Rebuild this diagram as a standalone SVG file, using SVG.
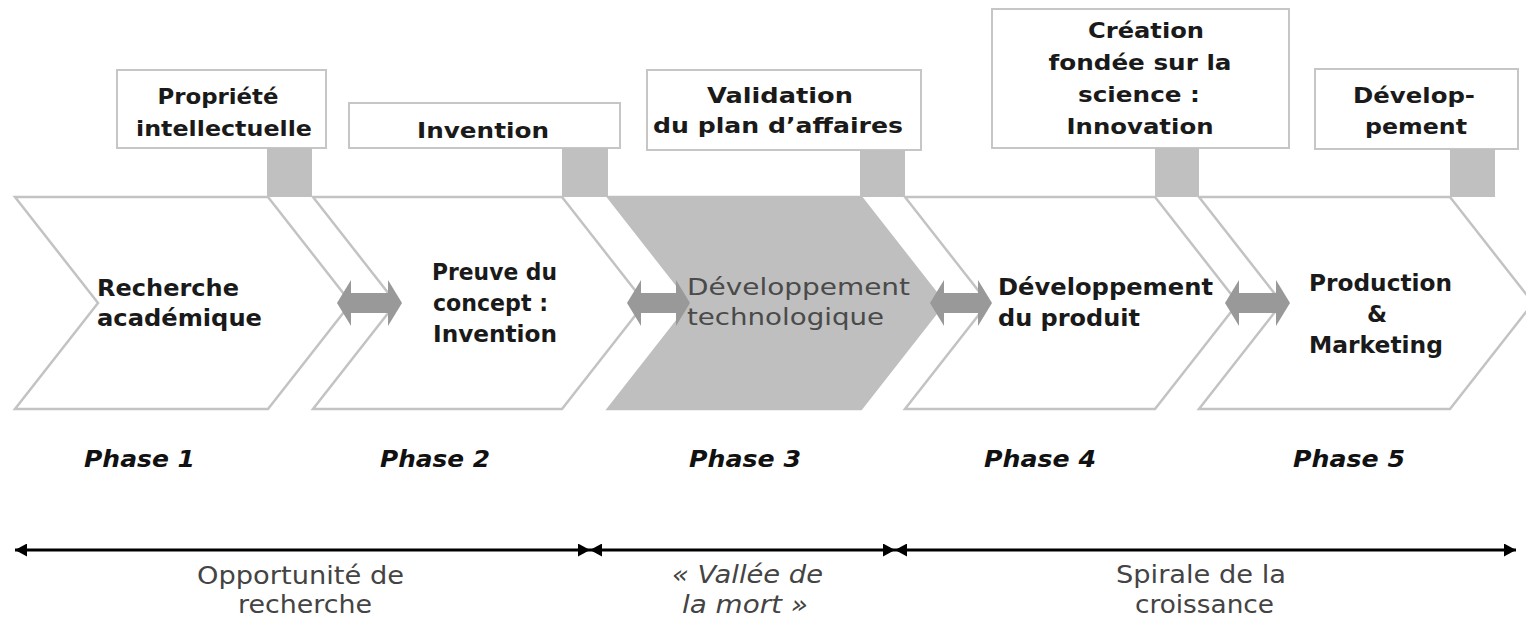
<svg xmlns="http://www.w3.org/2000/svg" width="1526" height="619" viewBox="0 0 1526 619">
<style>
.box{fill:#fff;stroke:#c6c6c6;stroke-width:2}
.blk{fill:#c0c0c0}
.chev{fill:#fff;stroke:#c3c3c3;stroke-width:2.5;stroke-linejoin:miter}
.chevg{fill:#bfbfbf;stroke:#bfbfbf;stroke-width:2.5}
.dbl{fill:#999999}
.t{font-family:"DejaVu Sans",Verdana,sans-serif;font-weight:bold;font-size:22px;fill:#1a1a1a}
.c{font-family:"DejaVu Sans",Verdana,sans-serif;font-weight:bold;font-size:23px;fill:#1a1a1a}
.g{font-family:"DejaVu Sans",Verdana,sans-serif;font-size:23px;fill:#4a4a4a}
.ph{font-family:"DejaVu Sans",Verdana,sans-serif;font-weight:bold;font-style:italic;font-size:23px;fill:#111}
.b{font-family:"DejaVu Sans",Verdana,sans-serif;font-size:24px;fill:#444}
.bi{font-family:"DejaVu Sans",Verdana,sans-serif;font-size:24px;font-style:italic;fill:#444}
.m{text-anchor:middle}
.ax{stroke:#000;stroke-width:3;fill:none}
</style>
<defs>
<marker id="ah" viewBox="0 0 12 13" refX="12" refY="6.5" markerWidth="12" markerHeight="13" markerUnits="userSpaceOnUse" orient="auto-start-reverse">
<path d="M0,0 L12,6.5 L0,13 Z" fill="#000"/>
</marker>
</defs>

<g id="phase1">
<rect class="box" x="117" y="70" width="209" height="78"/>
<rect class="blk" x="267" y="148" width="45" height="49"/>
<path class="chev" d="M15,197 L268,197 L351,303 L268,409 L15,409 L98,303 Z"/>
<text class="t m" x="218" y="104" textLength="121" lengthAdjust="spacingAndGlyphs">Propriété</text>
<text class="t m" x="224" y="136" textLength="176" lengthAdjust="spacingAndGlyphs">intellectuelle</text>
<text class="c" x="97" y="296" textLength="142" lengthAdjust="spacingAndGlyphs">Recherche</text>
<text class="c" x="97" y="326" textLength="165" lengthAdjust="spacingAndGlyphs">académique</text>
<text class="ph" x="84" y="467" textLength="111" lengthAdjust="spacingAndGlyphs">Phase 1</text>
</g>

<g id="phase2">
<rect class="box" x="349" y="103" width="271" height="45"/>
<rect class="blk" x="562" y="148" width="46" height="49"/>
<path class="chev" d="M313,197 L562,197 L645,303 L562,409 L313,409 L396,303 Z"/>
<text class="t m" x="483" y="138" textLength="132" lengthAdjust="spacingAndGlyphs">Invention</text>
<text class="c m" x="494.5" y="280" textLength="125" lengthAdjust="spacingAndGlyphs">Preuve du</text>
<text class="c m" x="490.5" y="311" textLength="115" lengthAdjust="spacingAndGlyphs">concept :</text>
<text class="c m" x="495" y="342" textLength="124" lengthAdjust="spacingAndGlyphs">Invention</text>
<text class="ph" x="380" y="467" textLength="110" lengthAdjust="spacingAndGlyphs">Phase 2</text>
</g>

<g id="phase3">
<rect class="box" x="647" y="70" width="274" height="80"/>
<rect class="blk" x="860" y="150" width="45" height="47"/>
<path class="chevg" d="M608,197 L861,197 L944,303 L861,409 L608,409 L691,303 Z"/>
<text class="t m" x="780" y="103" textLength="146" lengthAdjust="spacingAndGlyphs">Validation</text>
<text class="t m" x="778" y="133" textLength="250" lengthAdjust="spacingAndGlyphs">du plan d’affaires</text>
<text class="g" x="687" y="295" textLength="223" lengthAdjust="spacingAndGlyphs">Développement</text>
<text class="g" x="687" y="325" textLength="197" lengthAdjust="spacingAndGlyphs">technologique</text>
<text class="ph" x="689" y="467" textLength="112" lengthAdjust="spacingAndGlyphs">Phase 3</text>
</g>

<g id="phase4">
<rect class="box" x="992" y="9" width="297" height="139"/>
<rect class="blk" x="1155" y="148" width="44" height="49"/>
<path class="chev" d="M905,197 L1155,197 L1238,303 L1155,409 L905,409 L988,303 Z"/>
<text class="t m" x="1146" y="38" textLength="116" lengthAdjust="spacingAndGlyphs">Création</text>
<text class="t m" x="1140" y="70" textLength="183" lengthAdjust="spacingAndGlyphs">fondée sur la</text>
<text class="t m" x="1139" y="102" textLength="122" lengthAdjust="spacingAndGlyphs">science :</text>
<text class="t m" x="1140" y="134" textLength="147" lengthAdjust="spacingAndGlyphs">Innovation</text>
<text class="c" x="998" y="295" textLength="215" lengthAdjust="spacingAndGlyphs">Développement</text>
<text class="c" x="998" y="326" textLength="142" lengthAdjust="spacingAndGlyphs">du produit</text>
<text class="ph" x="984" y="467" textLength="112" lengthAdjust="spacingAndGlyphs">Phase 4</text>
</g>

<g id="phase5">
<rect class="box" x="1315" y="69" width="203" height="80"/>
<rect class="blk" x="1450" y="149" width="45" height="48"/>
<path class="chev" d="M1199,197 L1450,197 L1533,303 L1450,409 L1199,409 L1282,303 Z"/>
<text class="t m" x="1414" y="103" textLength="122" lengthAdjust="spacingAndGlyphs">Dévelop-</text>
<text class="t m" x="1416" y="134" textLength="102" lengthAdjust="spacingAndGlyphs">pement</text>
<text class="c m" x="1380.5" y="291" textLength="143" lengthAdjust="spacingAndGlyphs">Production</text>
<text class="c m" x="1377" y="322">&amp;</text>
<text class="c m" x="1376" y="353" textLength="134" lengthAdjust="spacingAndGlyphs">Marketing</text>
<text class="ph" x="1293" y="467" textLength="112" lengthAdjust="spacingAndGlyphs">Phase 5</text>
</g>

<g id="connectors">
<path class="dbl" d="M337,303 L351,280 L351,293 L388,293 L388,280 L402,303 L388,326 L388,313 L351,313 L351,326 Z"/>
<path class="dbl" d="M627,303 L641,280 L641,293 L676,293 L676,280 L690,303 L676,326 L676,313 L641,313 L641,326 Z"/>
<path class="dbl" d="M930,303 L944,280 L944,293 L978,293 L978,280 L992,303 L978,326 L978,313 L944,313 L944,326 Z"/>
<path class="dbl" d="M1225,303 L1239,280 L1239,293 L1276,293 L1276,280 L1290,303 L1276,326 L1276,313 L1239,313 L1239,326 Z"/>
<line class="ax" x1="15" y1="550" x2="590" y2="550" marker-start="url(#ah)" marker-end="url(#ah)"/>
<line class="ax" x1="590" y1="550" x2="895" y2="550" marker-start="url(#ah)" marker-end="url(#ah)"/>
<line class="ax" x1="895" y1="550" x2="1516" y2="550" marker-start="url(#ah)" marker-end="url(#ah)"/>
</g>

<g id="spans">
<text class="b m" x="300.5" y="584" textLength="207" lengthAdjust="spacingAndGlyphs">Opportunité de</text>
<text class="b m" x="305" y="613" textLength="134" lengthAdjust="spacingAndGlyphs">recherche</text>
<text class="bi m" x="747.5" y="583" textLength="151" lengthAdjust="spacingAndGlyphs">« Vallée de</text>
<text class="bi m" x="745" y="613" textLength="126" lengthAdjust="spacingAndGlyphs">la mort »</text>
<text class="b m" x="1201" y="583" textLength="170" lengthAdjust="spacingAndGlyphs">Spirale de la</text>
<text class="b m" x="1204.5" y="613" textLength="139" lengthAdjust="spacingAndGlyphs">croissance</text>
</g>
</svg>
